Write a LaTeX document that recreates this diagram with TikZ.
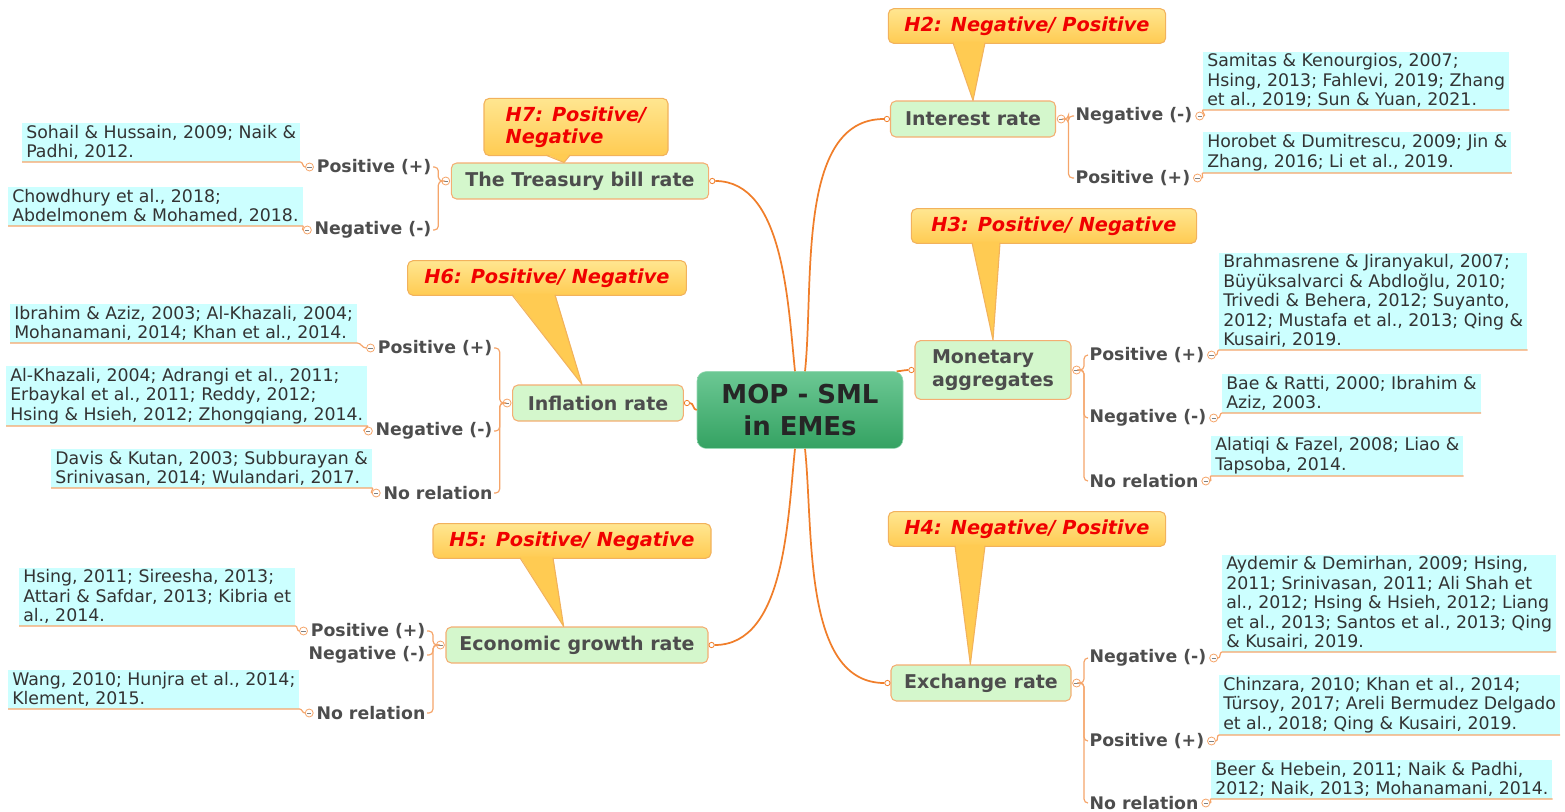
\documentclass[tikz,border=0pt]{standalone}
\usepackage{fontspec}
\setmainfont{DejaVu Sans}
\usetikzlibrary{positioning}

\definecolor{spineorange}{HTML}{F07E2A}
\definecolor{linkorange}{HTML}{F5A56A}
\definecolor{topicgreen}{HTML}{D4F7CC}
\definecolor{topicline}{HTML}{F4AE72}
\definecolor{citecyan}{HTML}{CCFFFF}
\definecolor{labelgray}{HTML}{4D4D4D}
\definecolor{calltop}{HTML}{FFE690}
\definecolor{callbot}{HTML}{FFCB52}
\definecolor{callline}{HTML}{F2B25C}
\definecolor{hypred}{HTML}{F00000}
\definecolor{hubtop}{HTML}{6CC894}
\definecolor{hubbot}{HTML}{34A262}

\begin{document}
\begin{tikzpicture}[x=0.75pt, y=-0.75pt,
  spine/.style={draw=spineorange, line width=1.3pt},
  link/.style={draw=linkorange, line width=0.9pt},
  hub/.style={rectangle, rounded corners=7pt, top color=hubtop, bottom color=hubbot, draw=hubtop!70!white, text=black!85, font=\fontsize{19.5}{24}\selectfont\bfseries, align=center, minimum width=154.5pt, minimum height=57.75pt},
  topic/.style={rectangle, rounded corners=4pt, draw=topicline, fill=topicgreen, line width=0.8pt, text=labelgray, font=\fontsize{14.25}{17}\selectfont\bfseries, minimum height=27pt},
  hyp/.style={rectangle, rounded corners=4pt, draw=callline, top color=calltop, bottom color=callbot, line width=0.8pt, text=hypred, font=\fontsize{14.5}{16.5}\selectfont\bfseries\itshape, minimum height=26pt},
  branch/.style={text=labelgray, font=\fontsize{13}{15}\selectfont\bfseries, inner sep=1pt},
  cite/.style={fill=citecyan, text=black!80, align=left, font=\fontsize{13}{14.6}\selectfont, inner xsep=3pt, inner ysep=1.5pt},
  knob/.style={circle, draw=linkorange, fill=white, line width=0.6pt, minimum size=6pt, inner sep=0pt,
    path picture={\draw[gray, line width=0.5pt] ([xshift=-1.6pt]path picture bounding box.center) -- ([xshift=1.6pt]path picture bounding box.center);}},
  dot/.style={circle, draw=spineorange, fill=white, line width=0.6pt, minimum size=4pt, inner sep=0pt},
  pointer/.style={fill=callbot},
  pointerline/.style={draw=callline, line width=0.8pt, line join=round}
]
    \useasboundingbox (0,0) rectangle (1565,811);

    % Central topic
    \node[hub] (mop) at (800,410) {MOP - SML\\in EMEs};

    % Main topics
    \node[topic, minimum width=123.75pt] (iT) at (973,119) {Interest rate};
    \node[topic, minimum width=117pt, minimum height=44pt, align=left] (mT) at (993,370) {Monetary\\aggregates};
    \node[topic, minimum width=135pt] (eT) at (981,683) {Exchange rate};
    \node[topic, minimum width=193pt] (tT) at (580,181) {The Treasury bill rate};
    \node[topic, minimum width=128pt] (fT) at (598,403) {Inflation rate};
    \node[topic, minimum width=196.5pt] (gT) at (577,645) {Economic growth rate};

    \node[dot, left=0pt of iT] (iD) {};
    \node[dot, left=0pt of mT] (mD) {};
    \node[dot, left=0pt of eT] (eD) {};
    \node[dot, right=0pt of tT] (tD) {};
    \node[dot, right=0pt of fT] (fD) {};
    \node[dot, right=0pt of gT] (gD) {};

    % Connect hub to topics
    \draw[spine] ([xshift=3.75pt]mop.north) to[out=84,in=180,looseness=0.85] (iD);
    \draw[spine] ([xshift=-3.75pt]mop.north) to[out=96,in=0,looseness=0.85] (tD);
    \draw[spine] ([xshift=-5pt]mop.north east) to[out=0,in=180] (mD);
    \draw[spine] (mop.west) to[out=180,in=0] (fD);
    \draw[spine] ([xshift=-3.75pt]mop.south) to[out=-96,in=0,looseness=0.85] (gD);
    \draw[spine] ([xshift=3.75pt]mop.south) to[out=-84,in=180,looseness=0.85] (eD);

    % Hypothesis callouts
    \node[hyp, minimum width=208pt] (h2) at (1027,26) {H2: Negative/ Positive};
    \node[hyp, minimum width=138pt, minimum height=43pt, align=left] (h7) at (576,127) {H7: Positive/\\Negative};
    \node[hyp, minimum width=214pt] (h3) at (1054,226) {H3: Positive/ Negative};
    \node[hyp, minimum width=209pt] (h6) at (547,278) {H6: Positive/ Negative};
    \node[hyp, minimum width=208.5pt] (h5) at (572,541) {H5: Positive/ Negative};
    \node[hyp, minimum width=208pt] (h4) at (1027,529) {H4: Negative/ Positive};

    \fill[pointer] ([shift={(-74,-2)}]h2.south) -- (iT.north) -- ([shift={(-42,-2)}]h2.south) -- cycle;
    \draw[pointerline] ([shift={(-74,-1)}]h2.south) -- (iT.north) -- ([shift={(-42,-1)}]h2.south);
    \fill[pointer] ([shift={(-30,-2)}]h7.south) -- ([xshift=-12pt]tT.north) -- ([shift={(-6,-2)}]h7.south) -- cycle;
    \draw[pointerline] ([shift={(-30,-1)}]h7.south) -- ([xshift=-12pt]tT.north) -- ([shift={(-6,-1)}]h7.south);
    \fill[pointer] ([shift={(-82,-2)}]h3.south) -- (mT.north) -- ([shift={(-54,-2)}]h3.south) -- cycle;
    \draw[pointerline] ([shift={(-82,-1)}]h3.south) -- (mT.north) -- ([shift={(-54,-1)}]h3.south);
    \fill[pointer] ([shift={(-35,-2)}]h6.south) -- ([xshift=-12pt]fT.north) -- ([shift={(8,-2)}]h6.south) -- cycle;
    \draw[pointerline] ([shift={(-35,-1)}]h6.south) -- ([xshift=-12pt]fT.north) -- ([shift={(8,-1)}]h6.south);
    \fill[pointer] ([shift={(-52,-2)}]h5.south) -- ([xshift=-10pt]gT.north) -- ([shift={(-19,-2)}]h5.south) -- cycle;
    \draw[pointerline] ([shift={(-52,-1)}]h5.south) -- ([xshift=-10pt]gT.north) -- ([shift={(-19,-1)}]h5.south);
    \fill[pointer] ([shift={(-72,-2)}]h4.south) -- ([xshift=-8pt]eT.north) -- ([shift={(-42,-2)}]h4.south) -- cycle;
    \draw[pointerline] ([shift={(-72,-1)}]h4.south) -- ([xshift=-8pt]eT.north) -- ([shift={(-42,-1)}]h4.south);

    % Interest rate
    \node[knob, right=0.5pt of iT] (iK) {};
    \node[branch, anchor=west] (iNegL) at (1074,116) {Negative (-)};
    \node[branch, anchor=west] (iPosL) at (1074,178) {Positive (+)};
    \node[knob, right=1pt of iNegL] (iNegK) {};
    \node[knob, right=1pt of iPosL] (iPosK) {};
    \node[cite, anchor=south west] (iNeg) at (1203,110) {Samitas \& Kenourgios, 2007;\\Hsing, 2013; Fahlevi, 2019; Zhang\\et al., 2019; Sun \& Yuan, 2021.};
    \node[cite, anchor=south west] (iPos) at (1203,173) {Horobet \& Dumitrescu, 2009; Jin \&\\Zhang, 2016; Li et al., 2019.};
    \draw[link, rounded corners=3pt] (iK.east) -- ++(3,0) |- (iNegL.west);
    \draw[link, rounded corners=3pt] (iK.east) -- ++(3,0) |- (iPosL.west);
    \draw[link] (iNegK.east) to[out=0,in=180] (iNeg.south west) -- (iNeg.south east);
    \draw[link] (iPosK.east) to[out=0,in=180] (iPos.south west) -- (iPos.south east);

    % Monetary aggregates
    \node[knob, right=0.5pt of mT] (mK) {};
    \node[branch, anchor=west] (mPosL) at (1088,355) {Positive (+)};
    \node[branch, anchor=west] (mNegL) at (1088,418) {Negative (-)};
    \node[branch, anchor=west] (mNoL) at (1088,481) {No relation};
    \node[knob, right=1pt of mPosL] (mPosK) {};
    \node[knob, right=1pt of mNegL] (mNegK) {};
    \node[knob, right=1pt of mNoL] (mNoK) {};
    \node[cite, anchor=south west] (mPos) at (1219,350) {Brahmasrene \& Jiranyakul, 2007;\\Büyüksalvarci \& AbdIoğlu, 2010;\\Trivedi \& Behera, 2012; Suyanto,\\2012; Mustafa et al., 2013; Qing \&\\Kusairi, 2019.};
    \node[cite, anchor=south west] (mNeg) at (1222,413) {Bae \& Ratti, 2000; Ibrahim \&\\Aziz, 2003.};
    \node[cite, anchor=south west] (mNo) at (1211,476) {Alatiqi \& Fazel, 2008; Liao \&\\Tapsoba, 2014.};
    \draw[link, rounded corners=3pt] (mK.east) -- ++(3,0) |- (mPosL.west);
    \draw[link, rounded corners=3pt] (mK.east) -- ++(3,0) |- (mNegL.west);
    \draw[link, rounded corners=3pt] (mK.east) -- ++(3,0) |- (mNoL.west);
    \draw[link] (mPosK.east) to[out=0,in=180] (mPos.south west) -- (mPos.south east);
    \draw[link] (mNegK.east) to[out=0,in=180] (mNeg.south west) -- (mNeg.south east);
    \draw[link] (mNoK.east) to[out=0,in=180] (mNo.south west) -- (mNo.south east);

    % Exchange rate
    \node[knob, right=0.5pt of eT] (eK) {};
    \node[branch, anchor=west] (eNegL) at (1088,658) {Negative (-)};
    \node[branch, anchor=west] (ePosL) at (1088,741) {Positive (+)};
    \node[branch, anchor=west] (eNoL) at (1088,803) {No relation};
    \node[knob, right=1pt of eNegL] (eNegK) {};
    \node[knob, right=1pt of ePosL] (ePosK) {};
    \node[knob, right=1pt of eNoL] (eNoK) {};
    \node[cite, anchor=south west] (eNeg) at (1222,652) {Aydemir \& Demirhan, 2009; Hsing,\\2011; Srinivasan, 2011; Ali Shah et\\al., 2012; Hsing \& Hsieh, 2012; Liang\\et al., 2013; Santos et al., 2013; Qing\\\& Kusairi, 2019.};
    \node[cite, anchor=south west] (ePos) at (1219,735) {Chinzara, 2010; Khan et al., 2014;\\Türsoy, 2017; Areli Bermudez Delgado\\et al., 2018; Qing \& Kusairi, 2019.};
    \node[cite, anchor=south west] (eNo) at (1211,799) {Beer \& Hebein, 2011; Naik \& Padhi,\\2012; Naik, 2013; Mohanamani, 2014.};
    \draw[link, rounded corners=3pt] (eK.east) -- ++(3,0) |- (eNegL.west);
    \draw[link, rounded corners=3pt] (eK.east) -- ++(3,0) |- (ePosL.west);
    \draw[link, rounded corners=3pt] (eK.east) -- ++(3,0) |- (eNoL.west);
    \draw[link] (eNegK.east) to[out=0,in=180] (eNeg.south west) -- (eNeg.south east);
    \draw[link] (ePosK.east) to[out=0,in=180] (ePos.south west) -- (ePos.south east);
    \draw[link] (eNoK.east) to[out=0,in=180] (eNo.south west) -- (eNo.south east);

    % The Treasury bill rate
    \node[knob, left=0.5pt of tT] (tK) {};
    \node[branch, anchor=east] (tPosL) at (433,167) {Positive (+)};
    \node[branch, anchor=east] (tNegL) at (433,230) {Negative (-)};
    \node[knob, left=1pt of tPosL] (tPosK) {};
    \node[knob, left=1pt of tNegL] (tNegK) {};
    \node[cite, anchor=south west] (tPos) at (22,162) {Sohail \& Hussain, 2009; Naik \&\\Padhi, 2012.};
    \node[cite, anchor=south west] (tNeg) at (8,226) {Chowdhury et al., 2018;\\Abdelmonem \& Mohamed, 2018.};
    \draw[link, rounded corners=3pt] (tK.west) -- ++(-3,0) |- (tPosL.east);
    \draw[link, rounded corners=3pt] (tK.west) -- ++(-3,0) |- (tNegL.east);
    \draw[link] (tPosK.west) to[out=180,in=0] (tPos.south east) -- (tPos.south west);
    \draw[link] (tNegK.west) to[out=180,in=0] (tNeg.south east) -- (tNeg.south west);

    % Inflation rate
    \node[knob, left=0.5pt of fT] (fK) {};
    \node[branch, anchor=east] (fPosL) at (494,348) {Positive (+)};
    \node[branch, anchor=east] (fNegL) at (494,431) {Negative (-)};
    \node[branch, anchor=east] (fNoL) at (494,493) {No relation};
    \node[knob, left=1pt of fPosL] (fPosK) {};
    \node[knob, left=1pt of fNegL] (fNegK) {};
    \node[knob, left=1pt of fNoL] (fNoK) {};
    \node[cite, anchor=south west] (fPos) at (10,343) {Ibrahim \& Aziz, 2003; Al-Khazali, 2004;\\Mohanamani, 2014; Khan et al., 2014.};
    \node[cite, anchor=south west] (fNeg) at (6,426) {Al-Khazali, 2004; Adrangi et al., 2011;\\Erbaykal et al., 2011; Reddy, 2012;\\Hsing \& Hsieh, 2012; Zhongqiang, 2014.};
    \node[cite, anchor=south west] (fNo) at (51,488) {Davis \& Kutan, 2003; Subburayan \&\\Srinivasan, 2014; Wulandari, 2017.};
    \draw[link, rounded corners=3pt] (fK.west) -- ++(-3,0) |- (fPosL.east);
    \draw[link, rounded corners=3pt] (fK.west) -- ++(-3,0) |- (fNegL.east);
    \draw[link, rounded corners=3pt] (fK.west) -- ++(-3,0) |- (fNoL.east);
    \draw[link] (fPosK.west) to[out=180,in=0] (fPos.south east) -- (fPos.south west);
    \draw[link] (fNegK.west) to[out=180,in=0] (fNeg.south east) -- (fNeg.south west);
    \draw[link] (fNoK.west) to[out=180,in=0] (fNo.south east) -- (fNo.south west);

    % Economic growth rate
    \node[knob, left=0.5pt of gT] (gK) {};
    \node[branch, anchor=east] (gPosL) at (427,631) {Positive (+)};
    \node[branch, anchor=east] (gNegL) at (427,655) {Negative (-)};
    \node[branch, anchor=east] (gNoL) at (427,713) {No relation};
    \node[knob, left=1pt of gPosL] (gPosK) {};
    \node[knob, left=1pt of gNoL] (gNoK) {};
    \node[cite, anchor=south west] (gPos) at (19,626) {Hsing, 2011; Sireesha, 2013;\\Attari \& Safdar, 2013; Kibria et\\al., 2014.};
    \node[cite, anchor=south west] (gNo) at (8,709) {Wang, 2010; Hunjra et al., 2014;\\Klement, 2015.};
    \draw[link, rounded corners=3pt] (gK.west) -- ++(-3,0) |- (gPosL.east);
    \draw[link, rounded corners=3pt] (gK.west) -- ++(-3,0) |- (gNegL.east);
    \draw[link, rounded corners=3pt] (gK.west) -- ++(-3,0) |- (gNoL.east);
    \draw[link] (gPosK.west) to[out=180,in=0] (gPos.south east) -- (gPos.south west);
    \draw[link] (gNoK.west) to[out=180,in=0] (gNo.south east) -- (gNo.south west);
\end{tikzpicture}
\end{document}
